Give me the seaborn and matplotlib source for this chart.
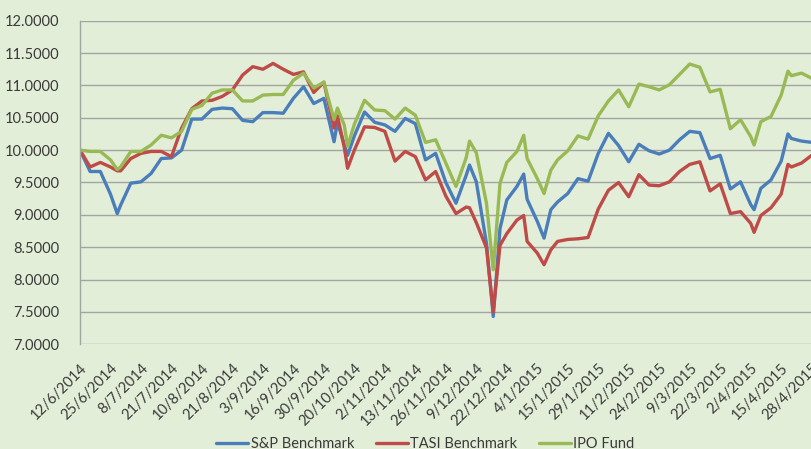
import numpy as np
import pandas as pd
import matplotlib
matplotlib.use("Agg")
import matplotlib.pyplot as plt
import seaborn as sns
from matplotlib.lines import Line2D

day_idx = [0, 3, 6, 9, 11, 12, 15, 18, 21, 24, 27, 30, 33, 36,
           39, 42, 45, 48, 51, 54, 57, 60, 63, 66, 69, 72,
           75, 76, 78, 79, 81, 84, 87, 90, 93, 96, 99, 102, 105, 108,
           111, 114, 115, 117, 120, 122, 124, 126, 129, 131, 132, 135, 137, 139, 141, 144,
           147, 150, 153, 156, 159, 162, 165, 168, 171, 174, 177, 180,
           183, 186, 189, 192, 195, 198, 199, 201, 204, 207, 209, 210, 213, 216]

sp_bench = [10.00, 9.67, 9.67, 9.32, 9.02, 9.15, 9.49, 9.51, 9.64, 9.87, 9.88, 10.00, 10.48, 10.48,
            10.63, 10.65, 10.64, 10.46, 10.44, 10.58, 10.58, 10.57, 10.80, 10.98, 10.72, 10.80,
            10.13, 10.43, 10.09, 9.92, 10.22, 10.59, 10.43, 10.39, 10.29, 10.49, 10.41, 9.85, 9.95, 9.50,
            9.18, 9.61, 9.77, 9.51, 8.56, 7.43, 8.79, 9.23, 9.44, 9.63, 9.24, 8.90, 8.64, 9.08, 9.20, 9.33,
            9.56, 9.52, 9.95, 10.26, 10.07, 9.82, 10.09, 9.99, 9.94, 10.00, 10.16, 10.29,
            10.27, 9.87, 9.92, 9.40, 9.51, 9.16, 9.08, 9.41, 9.54, 9.83, 10.25, 10.18, 10.14, 10.12]

tasi_bench = [10.00, 9.74, 9.81, 9.74, 9.68, 9.68, 9.87, 9.95, 9.98, 9.98, 9.90, 10.34, 10.64, 10.76,
              10.77, 10.83, 10.93, 11.16, 11.29, 11.25, 11.34, 11.25, 11.17, 11.21, 10.89, 11.05,
              10.34, 10.53, 10.05, 9.72, 10.00, 10.36, 10.35, 10.29, 9.83, 9.98, 9.90, 9.54, 9.67, 9.29,
              9.02, 9.12, 9.11, 8.88, 8.49, 7.50, 8.53, 8.71, 8.92, 8.99, 8.59, 8.41, 8.23, 8.46, 8.59, 8.62,
              8.63, 8.65, 9.09, 9.38, 9.50, 9.28, 9.62, 9.46, 9.45, 9.51, 9.67, 9.78,
              9.82, 9.37, 9.48, 9.02, 9.05, 8.87, 8.73, 8.99, 9.11, 9.32, 9.78, 9.74, 9.80, 9.92]

ipo_fund = [10.00, 9.98, 9.98, 9.85, 9.70, 9.74, 9.98, 9.98, 10.08, 10.23, 10.19, 10.29, 10.63, 10.69,
            10.88, 10.93, 10.93, 10.76, 10.76, 10.85, 10.86, 10.86, 11.08, 11.19, 10.96, 11.05,
            10.47, 10.65, 10.39, 10.06, 10.40, 10.77, 10.62, 10.61, 10.48, 10.65, 10.54, 10.12, 10.16, 9.80,
            9.44, 9.88, 10.14, 9.96, 9.18, 8.15, 9.49, 9.81, 9.98, 10.23, 9.87, 9.56, 9.33, 9.69, 9.85, 9.99,
            10.22, 10.17, 10.53, 10.76, 10.93, 10.67, 11.02, 10.98, 10.93, 11.01, 11.17, 11.33,
            11.28, 10.90, 10.94, 10.33, 10.47, 10.21, 10.08, 10.44, 10.52, 10.85, 11.22, 11.15, 11.19, 11.11]

tick_pos = list(range(0, 217, 9))
tick_labels = ['12/6/2014', '25/6/2014', '8/7/2014', '21/7/2014', '10/8/2014', '21/8/2014',
               '3/9/2014', '16/9/2014', '30/9/2014', '20/10/2014', '2/11/2014', '13/11/2014',
               '26/11/2014', '9/12/2014', '22/12/2014', '4/1/2015', '15/1/2015', '29/1/2015',
               '11/2/2015', '24/2/2015', '9/3/2015', '22/3/2015', '2/4/2015', '15/4/2015', '28/4/2015']

series_names = ['S&P Benchmark', 'TASI Benchmark', 'IPO Fund']
colors = ['#4A7EBB', '#BE4B48', '#98B954']
bg = '#E3EED8'

sns.set_theme(style="white")
plt.rcParams['font.family'] = ['Lato', 'DejaVu Sans']

df = pd.DataFrame({'day': day_idx, 'S&P Benchmark': sp_bench,
                   'TASI Benchmark': tasi_bench, 'IPO Fund': ipo_fund})
long_df = df.melt(id_vars='day', var_name='series', value_name='value')

fig = plt.figure(figsize=(8.12, 4.49), dpi=100)
fig.patch.set_facecolor(bg)
ax = fig.add_axes([0.0985, 0.2332, 0.9015, 0.7207])
ax.set_facecolor(bg)

# gridlines first so lines sit on top
ax.set_axisbelow(True)
ax.yaxis.grid(True, color='#A3A6A0', linewidth=1.0)
ax.xaxis.grid(False)

sns.lineplot(data=long_df, x='day', y='value', hue='series', hue_order=series_names,
             palette=colors, linewidth=2.4, ax=ax, legend=False)

ax.set_xlim(0, 216.1)
ax.set_ylim(7.0, 12.0)
ax.set_yticks(np.arange(7.0, 12.01, 0.5))
ax.set_yticklabels([f'{v:.4f}' for v in np.arange(7.0, 12.01, 0.5)])
ax.set_xticks(tick_pos)
ax.set_xticklabels(tick_labels, rotation=45, ha='right', va='top', rotation_mode='anchor')
ax.tick_params(axis='y', length=0, pad=15, labelsize=10.5, labelcolor='#3A3A3A')
ax.tick_params(axis='x', length=0, pad=12, labelsize=10.5, labelcolor='#3A3A3A')
ax.set_xlabel('')
ax.set_ylabel('')

for s in ['top', 'right', 'bottom']:
    ax.spines[s].set_visible(False)
ax.spines['left'].set_color('#A3A6A0')
ax.spines['left'].set_linewidth(1.0)

handles = [Line2D([0], [0], color=c, linewidth=2.4) for c in colors]
fig.legend(handles, series_names, loc='center', bbox_to_anchor=(0.524, 0.012), ncol=3,
           frameon=False, handlelength=2.2, handletextpad=0.15, columnspacing=1.5,
           fontsize=10.5, labelcolor='#3A3A3A')

fig.savefig('out.png', dpi=100, facecolor=bg)
